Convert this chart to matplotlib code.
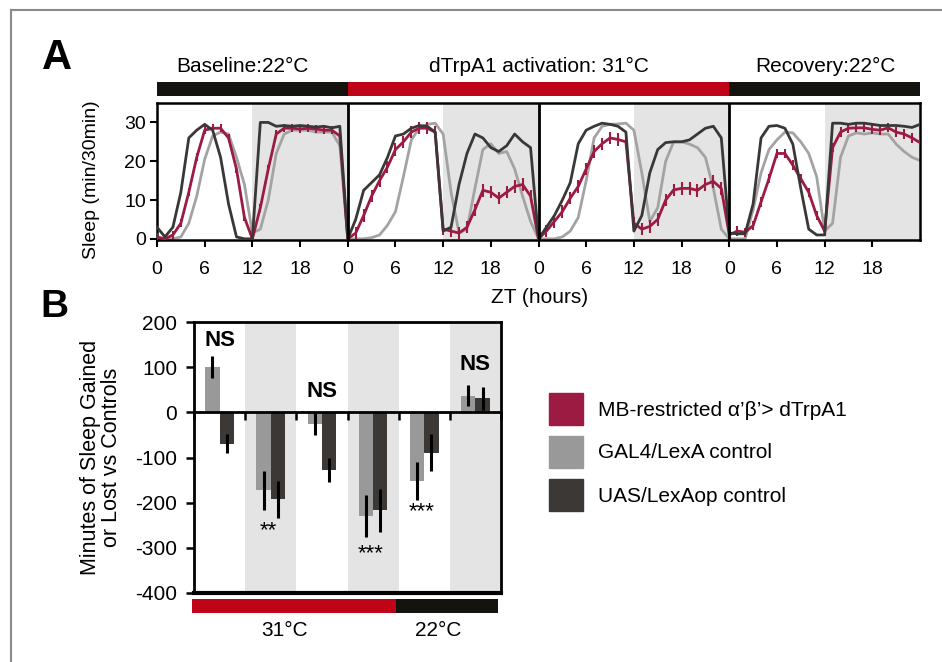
import numpy as np
import matplotlib
matplotlib.use("Agg")
import matplotlib.pyplot as plt
from matplotlib.lines import Line2D
from matplotlib.patches import Rectangle

plt.rcParams['font.family'] = ['Liberation Sans', 'DejaVu Sans']
plt.rcParams['axes.unicode_minus'] = False

# ---- panel A: sleep profiles, hourly values (min/30min), 4 days ----
mb_d1 = [0.5, 0, 1, 4, 12, 21, 28, 28.5, 28.5, 26, 18, 5.5, 0, 8, 18, 27, 28.5, 28.5, 28.3, 28.5, 28.3, 28, 28, 26.5]
mb_d2 = [0, 1.5, 6, 11, 15, 18.5, 23, 25, 27.5, 28.5, 28.5, 27.5, 2.5, 2, 1.5, 3, 7.5, 12.5, 12, 10.5, 12, 13.5, 14, 11]
mb_d3 = [0, 2, 4.5, 7, 10.5, 13.5, 18, 22.5, 24.5, 26, 25.6, 25, 4, 2.5, 3.2, 5, 10, 12.6, 13, 13, 12.5, 14, 14.8, 13]
mb_d4 = [1, 2, 1.7, 3.4, 9.5, 15.5, 22, 22, 19, 15.5, 12, 6, 2, 23.5, 27.5, 28.5, 28.6, 28.6, 28.2, 28, 28.6, 27.5, 27, 26, 24.8]

gal_d1 = [0, 0, 0, 0.5, 4, 11, 20.5, 26.5, 27.5, 27, 21, 14, 1.5, 2.5, 10, 22, 27, 28, 28, 28, 27.5, 27.5, 27.5, 24]
gal_d2 = [0, 0, 0, 0.3, 1, 3.5, 7, 16, 25.5, 28.5, 29.5, 29.8, 27, 12, 1.5, 2.5, 13, 23, 24.5, 22, 22.5, 18, 11, 4.5]
gal_d3 = [0, 0, 0, 0.5, 2, 5.5, 15, 26, 29, 29.5, 29.6, 29.8, 28, 17, 4.5, 8, 20, 25, 25, 24.4, 23.5, 21, 13, 2.5]
gal_d4 = [0, 0, 0, 7.5, 17, 23, 25.5, 27.5, 27.3, 25, 22, 16, 2, 4, 21, 26.5, 27.3, 27, 27.3, 27, 27, 24.4, 22.5, 21, 20.2]

uas_d1 = [3, 0.5, 3, 12, 26, 28, 29.5, 28, 21, 9, 0.5, 0, 0, 30, 30, 29, 29.2, 29, 29.2, 29, 28.8, 29, 28.6, 29]
uas_d2 = [0, 5, 12.5, 14.5, 16.5, 21, 26.5, 27, 28.5, 29.2, 29, 27.5, 2, 3, 14, 22, 27, 26, 23.5, 22.5, 24, 27, 25, 23.5]
uas_d3 = [0, 3, 6, 10, 14.5, 24.5, 28, 29, 29.8, 29.5, 29, 27.5, 2, 6, 17, 23, 24.8, 25, 25, 25.5, 27, 28.5, 29, 26]
uas_d4 = [1.5, 1.3, 1.3, 9, 26, 29, 29.2, 28.5, 24.4, 13, 2.5, 1, 1, 29.8, 29.8, 29.5, 29.8, 29.8, 29.5, 29.2, 29.2, 29.2, 29, 28.7, 29.5]

mb_sem_day = [1.0, 1.6, 1.6, 1.2]

periods = ['Baseline:22°C', 'dTrpA1 activation: 31°C', 'Recovery:22°C']
period_days = [1, 2, 1]
period_colors = ['#15130e', '#c00418', '#15130e']

# ---- panel B: minutes gained/lost vs controls ----
gal_diff = [100, -173, -26, -230, -152, 37]
gal_err = [24, 44, 25, 47, 41, 24]
uas_diff = [-70, -192, -128, -217, -89, 31]
uas_err = [21, 41, 27, 47, 40, 25]
sig_text = ['NS', '**', 'NS', '***', '***', 'NS']
temps = ['31°C', '22°C']

mb_col = '#9b1b42'
gal_col = '#a3a3a3'
uas_col = '#3a3737'
bar_gal = '#999999'
bar_uas = '#3b3836'
shade = '#e4e4e4'

W, H = 942, 662
fig = plt.figure(figsize=(W / 100, H / 100), dpi=100)

def fbox(x0, y0, x1, y1):
    # pixel box -> figure fraction
    return [x0 / W, 1 - y1 / H, (x1 - x0) / W, (y1 - y0) / H]

# frame lines of the figure
fig.add_artist(Line2D([11 / W, 1], [1 - 10 / H, 1 - 10 / H], color='#8a8a8a', lw=1.5))
fig.add_artist(Line2D([11 / W, 11 / W], [0, 1 - 10 / H], color='#8a8a8a', lw=1.5))

# ================= panel A =================
mb = np.array(mb_d1 + mb_d2 + mb_d3 + mb_d4)
gal = np.array(gal_d1 + gal_d2 + gal_d3 + gal_d4)
uas = np.array(uas_d1 + uas_d2 + uas_d3 + uas_d4)
hours = np.arange(len(mb))
mb_sem = np.append(np.repeat(mb_sem_day, 24), mb_sem_day[-1])

axA = fig.add_axes(fbox(157, 103, 920, 240))
ndays = sum(period_days)
for d in range(ndays):
    axA.axvspan(d * 24 + 12, d * 24 + 24, color=shade, lw=0, zorder=0)
axA.plot(hours, gal, color=gal_col, lw=2, zorder=2)
axA.errorbar(hours, mb, yerr=mb_sem, color=mb_col, lw=2, elinewidth=1.5, capsize=0, zorder=3)
axA.plot(hours, uas, color=uas_col, lw=2, zorder=4)
for d in range(1, ndays):
    axA.axvline(d * 24, color='black', lw=2, zorder=5)
axA.set_xlim(0, ndays * 24)
axA.set_ylim(-0.3, 35)
xt = np.arange(0, ndays * 24, 6)
axA.set_xticks(xt)
axA.set_xticklabels([str(t % 24) for t in xt])
axA.set_yticks([0, 10, 20, 30])
axA.tick_params(axis='x', labelsize=14, length=5, width=1.5, pad=10)
axA.tick_params(axis='y', labelsize=14, length=5, width=1.5, pad=3)
for s in axA.spines.values():
    s.set_linewidth(1.8)
axA.set_ylabel('Sleep (min/30min)', fontsize=14)
axA.yaxis.set_label_coords(-0.075, 0.44)
axA.set_xlabel('ZT (hours)', fontsize=15)
axA.xaxis.set_label_coords(0.502, -0.35)

# condition bar above panel A
axT = fig.add_axes(fbox(157, 82, 920, 96))
label_x = [242, 539, 825]
start = 0
for name, nd, col, lx in zip(periods, period_days, period_colors, label_x):
    axT.axvspan(start * 24, (start + nd) * 24, color=col, lw=0)
    fig.text(lx / W, 1 - 66 / H, name, ha='center', va='center', fontsize=15)
    start += nd
axT.set_xlim(0, ndays * 24)
axT.axis('off')

fig.text(57 / W, 1 - 58 / H, 'A', fontsize=30, fontweight='bold', ha='center', va='center')
fig.text(54 / W, 1 - 307 / H, 'B', fontsize=28, fontweight='bold', ha='center', va='center')

# ================= panel B =================
axB = fig.add_axes(fbox(194, 322, 501, 593))
x = np.arange(len(gal_diff))
for i in x[1::2]:
    axB.axvspan(i - 0.5, i + 0.5, color=shade, lw=0, zorder=0)
bw = 0.28
axB.bar(x - bw / 2, gal_diff, bw, color=bar_gal, zorder=2)
axB.bar(x + bw / 2, uas_diff, bw, color=bar_uas, zorder=2)
axB.errorbar(x - bw / 2, gal_diff, yerr=gal_err, fmt='none', ecolor='black', elinewidth=2.2, capsize=0, zorder=3)
axB.errorbar(x + bw / 2, uas_diff, yerr=uas_err, fmt='none', ecolor='black', elinewidth=2.2, capsize=0, zorder=3)

sig_y = [158, -262, 47, -312, -220, 106]
for i, (t, yy) in enumerate(zip(sig_text, sig_y)):
    if t == 'NS':
        axB.text(i, yy, t, ha='center', va='center', fontsize=16, fontweight='bold')
    else:
        axB.text(i - 0.05, yy, t, ha='center', va='center', fontsize=16)

axB.set_xlim(-0.5, len(x) - 0.5)
axB.set_ylim(-400, 200)
axB.set_yticks(np.arange(-400, 201, 100))
axB.spines['bottom'].set_position(('data', 0))
axB.set_xticks(np.arange(-0.5, len(x), 1.0))
axB.set_xticklabels([])
axB.tick_params(axis='x', length=6, width=1.8, direction='out')
axB.tick_params(axis='y', labelsize=15, length=6, width=1.8, pad=6)
for s in axB.spines.values():
    s.set_linewidth(2)
axB.axhline(-400, color='black', lw=3, clip_on=False, zorder=5)
axB.set_ylabel('Minutes of Sleep Gained\nor Lost vs Controls', fontsize=15.5, linespacing=1.0)
axB.yaxis.set_label_coords(-0.235, 0.5)

# temperature bar below panel B
axC = fig.add_axes(fbox(192, 599, 498, 613))
axC.axvspan(-0.5, 3.5, color='#c00418', lw=0)
axC.axvspan(3.5, 5.5, color='#15130e', lw=0)
axC.set_xlim(-0.5, 5.5)
axC.axis('off')
fig.text(285 / W, 1 - 630 / H, temps[0], ha='center', va='center', fontsize=15)
fig.text(438 / W, 1 - 630 / H, temps[1], ha='center', va='center', fontsize=15)

# legend
leg_labels = ['MB-restricted α’β’> dTrpA1', 'GAL4/LexA control', 'UAS/LexAop control']
leg_colors = [mb_col, bar_gal, bar_uas]
for k, (lab, col) in enumerate(zip(leg_labels, leg_colors)):
    y0 = 393 + k * 43
    fig.add_artist(Rectangle((549 / W, 1 - (y0 + 32) / H), 34 / W, 32 / H,
                             transform=fig.transFigure, color=col))
    fig.text(598 / W, 1 - (y0 + 17) / H, lab, ha='left', va='center', fontsize=15)

fig.savefig('out.png', dpi=100)
